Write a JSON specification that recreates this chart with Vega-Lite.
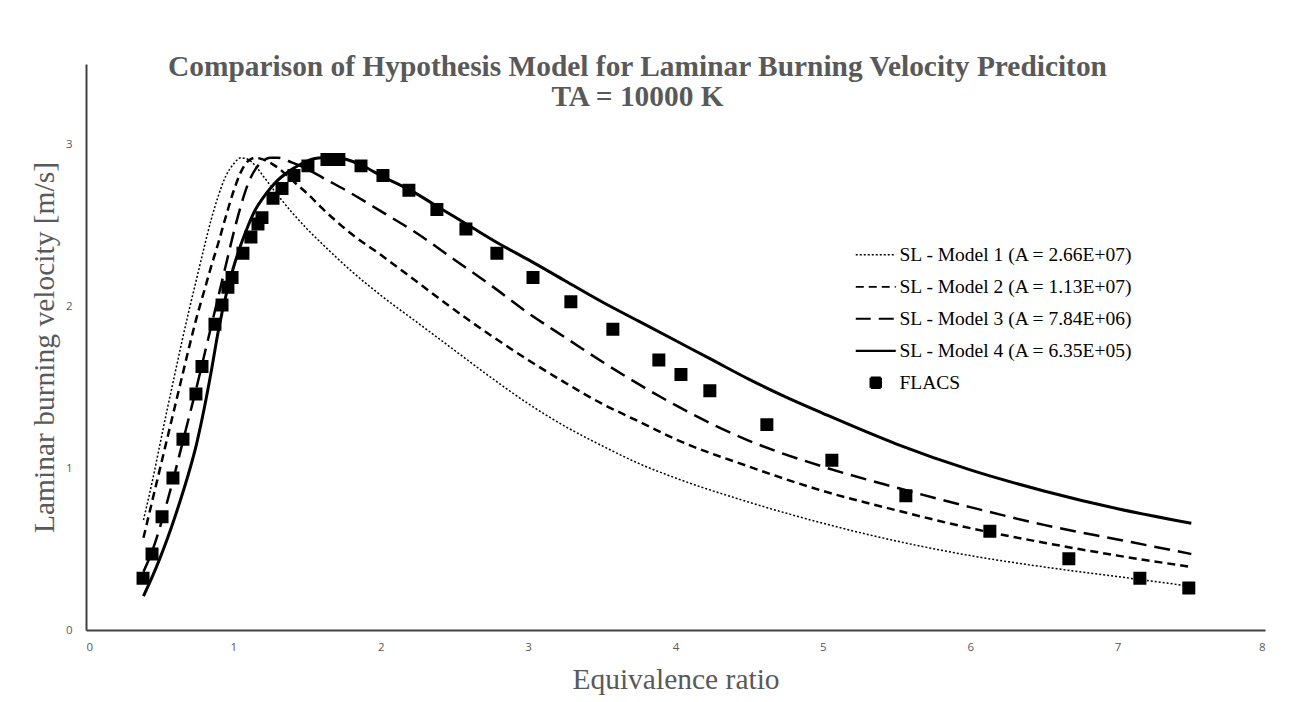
{
  "$schema": "https://vega.github.io/schema/vega-lite/v6.json",
  "width": 1179,
  "height": 566,
  "autosize": {"type": "none"},
  "padding": {"left": 86, "top": 64, "right": 28, "bottom": 72},
  "background": "white",
  "title": {
    "text": ["Comparison of Hypothesis Model for Laminar Burning Velocity Prediciton", "TA = 10000 K"],
    "font": "Liberation Serif",
    "fontSize": 29.4,
    "fontWeight": "bold",
    "color": "#595959",
    "anchor": "middle",
    "lineHeight": 30,
    "dx": -38,
    "offset": -48
  },
  "data": {
    "values": [
      {"series": "SL - Model 1 (A = 2.66E+07)", "phi": 0.39, "v": 0.68},
      {"series": "SL - Model 1 (A = 2.66E+07)", "phi": 0.45, "v": 0.92},
      {"series": "SL - Model 1 (A = 2.66E+07)", "phi": 0.5, "v": 1.14},
      {"series": "SL - Model 1 (A = 2.66E+07)", "phi": 0.55, "v": 1.36},
      {"series": "SL - Model 1 (A = 2.66E+07)", "phi": 0.6, "v": 1.57},
      {"series": "SL - Model 1 (A = 2.66E+07)", "phi": 0.65, "v": 1.78},
      {"series": "SL - Model 1 (A = 2.66E+07)", "phi": 0.7, "v": 1.98},
      {"series": "SL - Model 1 (A = 2.66E+07)", "phi": 0.75, "v": 2.17},
      {"series": "SL - Model 1 (A = 2.66E+07)", "phi": 0.8, "v": 2.36},
      {"series": "SL - Model 1 (A = 2.66E+07)", "phi": 0.85, "v": 2.54},
      {"series": "SL - Model 1 (A = 2.66E+07)", "phi": 0.9, "v": 2.69},
      {"series": "SL - Model 1 (A = 2.66E+07)", "phi": 0.95, "v": 2.81},
      {"series": "SL - Model 1 (A = 2.66E+07)", "phi": 1.0, "v": 2.88},
      {"series": "SL - Model 1 (A = 2.66E+07)", "phi": 1.05, "v": 2.92},
      {"series": "SL - Model 1 (A = 2.66E+07)", "phi": 1.1, "v": 2.91},
      {"series": "SL - Model 1 (A = 2.66E+07)", "phi": 1.15, "v": 2.87},
      {"series": "SL - Model 1 (A = 2.66E+07)", "phi": 1.2, "v": 2.81},
      {"series": "SL - Model 1 (A = 2.66E+07)", "phi": 1.3, "v": 2.69},
      {"series": "SL - Model 1 (A = 2.66E+07)", "phi": 1.4, "v": 2.58},
      {"series": "SL - Model 1 (A = 2.66E+07)", "phi": 1.5, "v": 2.48},
      {"series": "SL - Model 1 (A = 2.66E+07)", "phi": 1.6, "v": 2.39},
      {"series": "SL - Model 1 (A = 2.66E+07)", "phi": 1.8, "v": 2.22},
      {"series": "SL - Model 1 (A = 2.66E+07)", "phi": 2.0, "v": 2.07},
      {"series": "SL - Model 1 (A = 2.66E+07)", "phi": 2.25, "v": 1.9},
      {"series": "SL - Model 1 (A = 2.66E+07)", "phi": 2.5, "v": 1.73},
      {"series": "SL - Model 1 (A = 2.66E+07)", "phi": 2.75, "v": 1.56},
      {"series": "SL - Model 1 (A = 2.66E+07)", "phi": 3.0, "v": 1.4},
      {"series": "SL - Model 1 (A = 2.66E+07)", "phi": 3.25, "v": 1.26},
      {"series": "SL - Model 1 (A = 2.66E+07)", "phi": 3.5, "v": 1.14},
      {"series": "SL - Model 1 (A = 2.66E+07)", "phi": 3.75, "v": 1.03},
      {"series": "SL - Model 1 (A = 2.66E+07)", "phi": 4.0, "v": 0.94},
      {"series": "SL - Model 1 (A = 2.66E+07)", "phi": 4.5, "v": 0.79},
      {"series": "SL - Model 1 (A = 2.66E+07)", "phi": 5.0, "v": 0.66},
      {"series": "SL - Model 1 (A = 2.66E+07)", "phi": 5.5, "v": 0.55},
      {"series": "SL - Model 1 (A = 2.66E+07)", "phi": 6.0, "v": 0.46},
      {"series": "SL - Model 1 (A = 2.66E+07)", "phi": 6.5, "v": 0.39},
      {"series": "SL - Model 1 (A = 2.66E+07)", "phi": 7.0, "v": 0.33},
      {"series": "SL - Model 1 (A = 2.66E+07)", "phi": 7.5, "v": 0.27},

      {"series": "SL - Model 2 (A = 1.13E+07)", "phi": 0.39, "v": 0.57},
      {"series": "SL - Model 2 (A = 1.13E+07)", "phi": 0.45, "v": 0.8},
      {"series": "SL - Model 2 (A = 1.13E+07)", "phi": 0.5, "v": 0.99},
      {"series": "SL - Model 2 (A = 1.13E+07)", "phi": 0.55, "v": 1.18},
      {"series": "SL - Model 2 (A = 1.13E+07)", "phi": 0.6, "v": 1.37},
      {"series": "SL - Model 2 (A = 1.13E+07)", "phi": 0.65, "v": 1.56},
      {"series": "SL - Model 2 (A = 1.13E+07)", "phi": 0.7, "v": 1.75},
      {"series": "SL - Model 2 (A = 1.13E+07)", "phi": 0.75, "v": 1.93},
      {"series": "SL - Model 2 (A = 1.13E+07)", "phi": 0.8, "v": 2.09},
      {"series": "SL - Model 2 (A = 1.13E+07)", "phi": 0.85, "v": 2.25},
      {"series": "SL - Model 2 (A = 1.13E+07)", "phi": 0.9, "v": 2.4},
      {"series": "SL - Model 2 (A = 1.13E+07)", "phi": 0.95, "v": 2.56},
      {"series": "SL - Model 2 (A = 1.13E+07)", "phi": 1.0, "v": 2.71},
      {"series": "SL - Model 2 (A = 1.13E+07)", "phi": 1.05, "v": 2.83},
      {"series": "SL - Model 2 (A = 1.13E+07)", "phi": 1.1, "v": 2.9},
      {"series": "SL - Model 2 (A = 1.13E+07)", "phi": 1.15, "v": 2.92},
      {"series": "SL - Model 2 (A = 1.13E+07)", "phi": 1.2, "v": 2.91},
      {"series": "SL - Model 2 (A = 1.13E+07)", "phi": 1.3, "v": 2.86},
      {"series": "SL - Model 2 (A = 1.13E+07)", "phi": 1.4, "v": 2.78},
      {"series": "SL - Model 2 (A = 1.13E+07)", "phi": 1.5, "v": 2.7},
      {"series": "SL - Model 2 (A = 1.13E+07)", "phi": 1.6, "v": 2.61},
      {"series": "SL - Model 2 (A = 1.13E+07)", "phi": 1.8, "v": 2.45},
      {"series": "SL - Model 2 (A = 1.13E+07)", "phi": 2.0, "v": 2.32},
      {"series": "SL - Model 2 (A = 1.13E+07)", "phi": 2.25, "v": 2.15},
      {"series": "SL - Model 2 (A = 1.13E+07)", "phi": 2.5, "v": 1.98},
      {"series": "SL - Model 2 (A = 1.13E+07)", "phi": 2.75, "v": 1.82},
      {"series": "SL - Model 2 (A = 1.13E+07)", "phi": 3.0, "v": 1.67},
      {"series": "SL - Model 2 (A = 1.13E+07)", "phi": 3.25, "v": 1.53},
      {"series": "SL - Model 2 (A = 1.13E+07)", "phi": 3.5, "v": 1.4},
      {"series": "SL - Model 2 (A = 1.13E+07)", "phi": 3.75, "v": 1.29},
      {"series": "SL - Model 2 (A = 1.13E+07)", "phi": 4.0, "v": 1.18},
      {"series": "SL - Model 2 (A = 1.13E+07)", "phi": 4.5, "v": 1.01},
      {"series": "SL - Model 2 (A = 1.13E+07)", "phi": 5.0, "v": 0.86},
      {"series": "SL - Model 2 (A = 1.13E+07)", "phi": 5.5, "v": 0.74},
      {"series": "SL - Model 2 (A = 1.13E+07)", "phi": 6.0, "v": 0.63},
      {"series": "SL - Model 2 (A = 1.13E+07)", "phi": 6.5, "v": 0.54},
      {"series": "SL - Model 2 (A = 1.13E+07)", "phi": 7.0, "v": 0.46},
      {"series": "SL - Model 2 (A = 1.13E+07)", "phi": 7.5, "v": 0.39},

      {"series": "SL - Model 3 (A = 7.84E+06)", "phi": 0.39, "v": 0.36},
      {"series": "SL - Model 3 (A = 7.84E+06)", "phi": 0.45, "v": 0.49},
      {"series": "SL - Model 3 (A = 7.84E+06)", "phi": 0.5, "v": 0.63},
      {"series": "SL - Model 3 (A = 7.84E+06)", "phi": 0.55, "v": 0.79},
      {"series": "SL - Model 3 (A = 7.84E+06)", "phi": 0.6, "v": 0.96},
      {"series": "SL - Model 3 (A = 7.84E+06)", "phi": 0.65, "v": 1.14},
      {"series": "SL - Model 3 (A = 7.84E+06)", "phi": 0.7, "v": 1.32},
      {"series": "SL - Model 3 (A = 7.84E+06)", "phi": 0.75, "v": 1.5},
      {"series": "SL - Model 3 (A = 7.84E+06)", "phi": 0.8, "v": 1.69},
      {"series": "SL - Model 3 (A = 7.84E+06)", "phi": 0.85, "v": 1.88},
      {"series": "SL - Model 3 (A = 7.84E+06)", "phi": 0.9, "v": 2.07},
      {"series": "SL - Model 3 (A = 7.84E+06)", "phi": 0.95, "v": 2.26},
      {"series": "SL - Model 3 (A = 7.84E+06)", "phi": 1.0, "v": 2.45},
      {"series": "SL - Model 3 (A = 7.84E+06)", "phi": 1.05, "v": 2.62},
      {"series": "SL - Model 3 (A = 7.84E+06)", "phi": 1.1, "v": 2.76},
      {"series": "SL - Model 3 (A = 7.84E+06)", "phi": 1.15, "v": 2.85},
      {"series": "SL - Model 3 (A = 7.84E+06)", "phi": 1.2, "v": 2.9},
      {"series": "SL - Model 3 (A = 7.84E+06)", "phi": 1.25, "v": 2.92},
      {"series": "SL - Model 3 (A = 7.84E+06)", "phi": 1.3, "v": 2.92},
      {"series": "SL - Model 3 (A = 7.84E+06)", "phi": 1.4, "v": 2.89},
      {"series": "SL - Model 3 (A = 7.84E+06)", "phi": 1.5, "v": 2.85},
      {"series": "SL - Model 3 (A = 7.84E+06)", "phi": 1.6, "v": 2.8},
      {"series": "SL - Model 3 (A = 7.84E+06)", "phi": 1.8, "v": 2.7},
      {"series": "SL - Model 3 (A = 7.84E+06)", "phi": 2.0, "v": 2.59},
      {"series": "SL - Model 3 (A = 7.84E+06)", "phi": 2.25, "v": 2.45},
      {"series": "SL - Model 3 (A = 7.84E+06)", "phi": 2.5, "v": 2.29},
      {"series": "SL - Model 3 (A = 7.84E+06)", "phi": 2.75, "v": 2.13},
      {"series": "SL - Model 3 (A = 7.84E+06)", "phi": 3.0, "v": 1.96},
      {"series": "SL - Model 3 (A = 7.84E+06)", "phi": 3.25, "v": 1.81},
      {"series": "SL - Model 3 (A = 7.84E+06)", "phi": 3.5, "v": 1.66},
      {"series": "SL - Model 3 (A = 7.84E+06)", "phi": 3.75, "v": 1.52},
      {"series": "SL - Model 3 (A = 7.84E+06)", "phi": 4.0, "v": 1.39},
      {"series": "SL - Model 3 (A = 7.84E+06)", "phi": 4.5, "v": 1.17},
      {"series": "SL - Model 3 (A = 7.84E+06)", "phi": 5.0, "v": 1.01},
      {"series": "SL - Model 3 (A = 7.84E+06)", "phi": 5.5, "v": 0.88},
      {"series": "SL - Model 3 (A = 7.84E+06)", "phi": 6.0, "v": 0.76},
      {"series": "SL - Model 3 (A = 7.84E+06)", "phi": 6.5, "v": 0.65},
      {"series": "SL - Model 3 (A = 7.84E+06)", "phi": 7.0, "v": 0.56},
      {"series": "SL - Model 3 (A = 7.84E+06)", "phi": 7.5, "v": 0.47},

      {"series": "SL - Model 4 (A = 6.35E+05)", "phi": 0.39, "v": 0.21},
      {"series": "SL - Model 4 (A = 6.35E+05)", "phi": 0.45, "v": 0.33},
      {"series": "SL - Model 4 (A = 6.35E+05)", "phi": 0.5, "v": 0.44},
      {"series": "SL - Model 4 (A = 6.35E+05)", "phi": 0.55, "v": 0.56},
      {"series": "SL - Model 4 (A = 6.35E+05)", "phi": 0.6, "v": 0.69},
      {"series": "SL - Model 4 (A = 6.35E+05)", "phi": 0.65, "v": 0.83},
      {"series": "SL - Model 4 (A = 6.35E+05)", "phi": 0.7, "v": 0.98},
      {"series": "SL - Model 4 (A = 6.35E+05)", "phi": 0.75, "v": 1.15},
      {"series": "SL - Model 4 (A = 6.35E+05)", "phi": 0.8, "v": 1.36},
      {"series": "SL - Model 4 (A = 6.35E+05)", "phi": 0.85, "v": 1.6},
      {"series": "SL - Model 4 (A = 6.35E+05)", "phi": 0.9, "v": 1.86},
      {"series": "SL - Model 4 (A = 6.35E+05)", "phi": 0.95, "v": 2.07},
      {"series": "SL - Model 4 (A = 6.35E+05)", "phi": 1.0, "v": 2.24},
      {"series": "SL - Model 4 (A = 6.35E+05)", "phi": 1.05, "v": 2.38},
      {"series": "SL - Model 4 (A = 6.35E+05)", "phi": 1.1, "v": 2.5},
      {"series": "SL - Model 4 (A = 6.35E+05)", "phi": 1.15, "v": 2.6},
      {"series": "SL - Model 4 (A = 6.35E+05)", "phi": 1.2, "v": 2.67},
      {"series": "SL - Model 4 (A = 6.35E+05)", "phi": 1.25, "v": 2.73},
      {"series": "SL - Model 4 (A = 6.35E+05)", "phi": 1.3, "v": 2.78},
      {"series": "SL - Model 4 (A = 6.35E+05)", "phi": 1.4, "v": 2.85},
      {"series": "SL - Model 4 (A = 6.35E+05)", "phi": 1.5, "v": 2.9},
      {"series": "SL - Model 4 (A = 6.35E+05)", "phi": 1.6, "v": 2.92},
      {"series": "SL - Model 4 (A = 6.35E+05)", "phi": 1.7, "v": 2.92},
      {"series": "SL - Model 4 (A = 6.35E+05)", "phi": 1.8, "v": 2.9},
      {"series": "SL - Model 4 (A = 6.35E+05)", "phi": 1.9, "v": 2.86},
      {"series": "SL - Model 4 (A = 6.35E+05)", "phi": 2.0, "v": 2.81},
      {"series": "SL - Model 4 (A = 6.35E+05)", "phi": 2.2, "v": 2.72},
      {"series": "SL - Model 4 (A = 6.35E+05)", "phi": 2.4, "v": 2.61},
      {"series": "SL - Model 4 (A = 6.35E+05)", "phi": 2.6, "v": 2.5},
      {"series": "SL - Model 4 (A = 6.35E+05)", "phi": 2.8, "v": 2.39},
      {"series": "SL - Model 4 (A = 6.35E+05)", "phi": 3.0, "v": 2.29},
      {"series": "SL - Model 4 (A = 6.35E+05)", "phi": 3.25, "v": 2.16},
      {"series": "SL - Model 4 (A = 6.35E+05)", "phi": 3.5, "v": 2.03},
      {"series": "SL - Model 4 (A = 6.35E+05)", "phi": 3.75, "v": 1.91},
      {"series": "SL - Model 4 (A = 6.35E+05)", "phi": 4.0, "v": 1.79},
      {"series": "SL - Model 4 (A = 6.35E+05)", "phi": 4.25, "v": 1.67},
      {"series": "SL - Model 4 (A = 6.35E+05)", "phi": 4.5, "v": 1.55},
      {"series": "SL - Model 4 (A = 6.35E+05)", "phi": 4.75, "v": 1.44},
      {"series": "SL - Model 4 (A = 6.35E+05)", "phi": 5.0, "v": 1.34},
      {"series": "SL - Model 4 (A = 6.35E+05)", "phi": 5.5, "v": 1.15},
      {"series": "SL - Model 4 (A = 6.35E+05)", "phi": 6.0, "v": 0.99},
      {"series": "SL - Model 4 (A = 6.35E+05)", "phi": 6.5, "v": 0.86},
      {"series": "SL - Model 4 (A = 6.35E+05)", "phi": 7.0, "v": 0.75},
      {"series": "SL - Model 4 (A = 6.35E+05)", "phi": 7.5, "v": 0.66},

      {"series": "FLACS", "phi": 0.387, "v": 0.32},
      {"series": "FLACS", "phi": 0.448, "v": 0.47},
      {"series": "FLACS", "phi": 0.516, "v": 0.7},
      {"series": "FLACS", "phi": 0.59, "v": 0.94},
      {"series": "FLACS", "phi": 0.658, "v": 1.18},
      {"series": "FLACS", "phi": 0.746, "v": 1.46},
      {"series": "FLACS", "phi": 0.787, "v": 1.63},
      {"series": "FLACS", "phi": 0.875, "v": 1.89},
      {"series": "FLACS", "phi": 0.923, "v": 2.01},
      {"series": "FLACS", "phi": 0.963, "v": 2.12},
      {"series": "FLACS", "phi": 0.991, "v": 2.18},
      {"series": "FLACS", "phi": 1.065, "v": 2.33},
      {"series": "FLACS", "phi": 1.119, "v": 2.43},
      {"series": "FLACS", "phi": 1.167, "v": 2.51},
      {"series": "FLACS", "phi": 1.194, "v": 2.55},
      {"series": "FLACS", "phi": 1.269, "v": 2.67},
      {"series": "FLACS", "phi": 1.33, "v": 2.73},
      {"series": "FLACS", "phi": 1.411, "v": 2.81},
      {"series": "FLACS", "phi": 1.506, "v": 2.87},
      {"series": "FLACS", "phi": 1.635, "v": 2.91},
      {"series": "FLACS", "phi": 1.716, "v": 2.91},
      {"series": "FLACS", "phi": 1.866, "v": 2.87},
      {"series": "FLACS", "phi": 2.015, "v": 2.81},
      {"series": "FLACS", "phi": 2.191, "v": 2.72},
      {"series": "FLACS", "phi": 2.381, "v": 2.6},
      {"series": "FLACS", "phi": 2.578, "v": 2.48},
      {"series": "FLACS", "phi": 2.788, "v": 2.33},
      {"series": "FLACS", "phi": 3.033, "v": 2.18},
      {"series": "FLACS", "phi": 3.29, "v": 2.03},
      {"series": "FLACS", "phi": 3.575, "v": 1.86},
      {"series": "FLACS", "phi": 3.887, "v": 1.67},
      {"series": "FLACS", "phi": 4.037, "v": 1.58},
      {"series": "FLACS", "phi": 4.233, "v": 1.48},
      {"series": "FLACS", "phi": 4.62, "v": 1.27},
      {"series": "FLACS", "phi": 5.061, "v": 1.05},
      {"series": "FLACS", "phi": 5.563, "v": 0.83},
      {"series": "FLACS", "phi": 6.133, "v": 0.61},
      {"series": "FLACS", "phi": 6.669, "v": 0.44},
      {"series": "FLACS", "phi": 7.151, "v": 0.32},
      {"series": "FLACS", "phi": 7.483, "v": 0.26}
    ]
  },
  "encoding": {
    "x": {
      "field": "phi",
      "type": "quantitative",
      "scale": {"domain": [0, 8], "nice": false},
      "axis": {
        "title": "Equivalence ratio",
        "values": [0, 1, 2, 3, 4, 5, 6, 7, 8],
        "grid": false,
        "ticks": false,
        "domainColor": "#404040",
        "domainWidth": 2,
        "labelFont": "Open Sans",
        "labelFontSize": 11.5,
        "labelColor": "#595959",
        "labelPadding": 11,
        "titleFont": "Liberation Serif",
        "titleFontSize": 29.5,
        "titleFontWeight": "normal",
        "titleColor": "#595959",
        "titlePadding": 13
      }
    },
    "y": {
      "field": "v",
      "type": "quantitative",
      "scale": {"domain": [0, 3.5], "nice": false},
      "axis": {
        "title": "Laminar burning velocity [m/s]",
        "values": [0, 1, 2, 3],
        "grid": false,
        "ticks": false,
        "domainColor": "#404040",
        "domainWidth": 2,
        "labelFont": "Open Sans",
        "labelFontSize": 11.5,
        "labelColor": "#595959",
        "labelPadding": 14,
        "titleFont": "Liberation Serif",
        "titleFontSize": 29.5,
        "titleFontWeight": "normal",
        "titleColor": "#595959",
        "titlePadding": 6
      }
    }
  },
  "layer": [
    {
      "transform": [{"filter": "datum.series === 'SL - Model 1 (A = 2.66E+07)'"}],
      "mark": {"type": "line", "interpolate": "monotone", "color": "black", "strokeWidth": 1.5, "strokeDash": [2, 2]}
    },
    {
      "transform": [{"filter": "datum.series === 'SL - Model 2 (A = 1.13E+07)'"}],
      "mark": {"type": "line", "interpolate": "monotone", "color": "black", "strokeWidth": 2.5, "strokeDash": [8, 5]}
    },
    {
      "transform": [{"filter": "datum.series === 'SL - Model 3 (A = 7.84E+06)'"}],
      "mark": {"type": "line", "interpolate": "monotone", "color": "black", "strokeWidth": 2.5, "strokeDash": [16, 8]}
    },
    {
      "transform": [{"filter": "datum.series === 'SL - Model 4 (A = 6.35E+05)'"}],
      "mark": {"type": "line", "interpolate": "monotone", "color": "black", "strokeWidth": 3}
    },
    {
      "transform": [{"filter": "datum.series === 'FLACS'"}],
      "mark": {"type": "point", "filled": true, "color": "black", "stroke": "black", "strokeJoin": "miter", "size": 110, "opacity": 1},
      "encoding": {
        "shape": {
          "field": "series",
          "type": "nominal",
          "scale": {
            "domain": ["SL - Model 1 (A = 2.66E+07)", "SL - Model 2 (A = 1.13E+07)", "SL - Model 3 (A = 7.84E+06)", "SL - Model 4 (A = 6.35E+05)", "FLACS"],
            "range": ["M-4,0H4", "M-4,0H4", "M-4,0H4", "M-4,0H4", "M-1,-1H1V1H-1Z"]
          },
          "legend": {
            "title": null,
            "orient": "none",
            "legendX": 780,
            "legendY": 181,
            "padding": 0,
            "symbolSize": 100,
            "rowPadding": 11,
            "labelFont": "Liberation Serif",
            "labelFontSize": 19.5,
            "labelColor": "black",
            "labelOffset": 14,
            "labelLimit": 400
          }
        },
        "strokeDash": {
          "field": "series",
          "type": "nominal",
          "scale": {
            "domain": ["SL - Model 1 (A = 2.66E+07)", "SL - Model 2 (A = 1.13E+07)", "SL - Model 3 (A = 7.84E+06)", "SL - Model 4 (A = 6.35E+05)", "FLACS"],
            "range": [[2, 2], [8, 5], [15, 8], [1, 0], [1, 0]]
          }
        },
        "strokeWidth": {
          "field": "series",
          "type": "nominal",
          "scale": {
            "domain": ["SL - Model 1 (A = 2.66E+07)", "SL - Model 2 (A = 1.13E+07)", "SL - Model 3 (A = 7.84E+06)", "SL - Model 4 (A = 6.35E+05)", "FLACS"],
            "range": [1.5, 2.5, 2.5, 3, 0]
          }
        }
      }
    }
  ],
  "config": {
    "view": {"stroke": null},
    "font": "Liberation Serif"
  }
}
